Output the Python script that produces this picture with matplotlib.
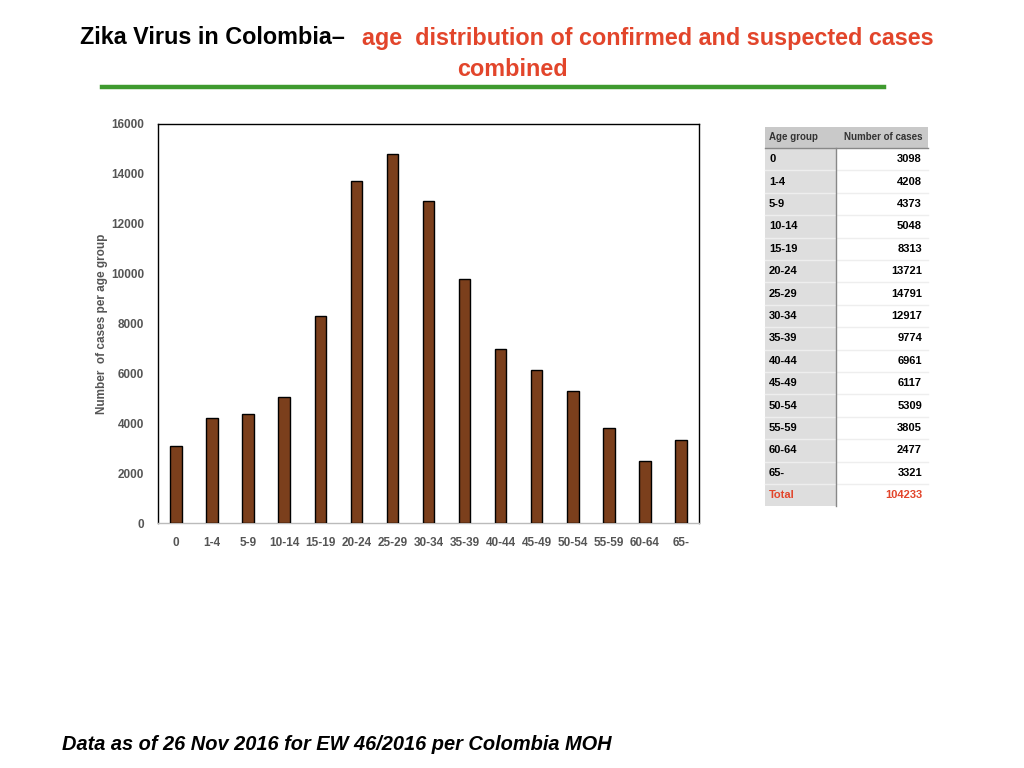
import matplotlib
matplotlib.use("Agg")
import matplotlib.pyplot as plt
from matplotlib.patches import Rectangle
from matplotlib.lines import Line2D

age_groups = ["0", "1-4", "5-9", "10-14", "15-19", "20-24", "25-29", "30-34",
              "35-39", "40-44", "45-49", "50-54", "55-59", "60-64", "65-"]
cases = [3098, 4208, 4373, 5048, 8313, 13721, 14791, 12917,
         9774, 6961, 6117, 5309, 3805, 2477, 3321]
total_cases = 104233
y_ticks = [0, 2000, 4000, 6000, 8000, 10000, 12000, 14000, 16000]

plt.rcParams['font.family'] = ['Liberation Sans', 'DejaVu Sans']

W, H = 1024, 768
fig = plt.figure(figsize=(W / 100, H / 100), dpi=100)

def fx(px):
    return px / W

def fy(py):
    return 1 - py / H

# Axes
ax = fig.add_axes([fx(158), fy(523), fx(699) - fx(158), fy(124) - fy(523)])
x = list(range(len(age_groups)))
ax.bar(x, cases, width=0.32, color="#7b3f1c", edgecolor="black", linewidth=1.0, zorder=3)
ax.set_xlim(-0.5, len(age_groups) - 0.5)
ax.set_ylim(0, 16000)
ax.set_yticks(y_ticks)
ax.set_yticklabels([str(v) for v in y_ticks], fontsize=8.5, fontweight="bold", color="#555555")
ax.set_xticks(x)
ax.set_xticklabels(age_groups, fontsize=8.5, fontweight="bold", color="#555555")
ax.tick_params(axis="both", length=0)
ax.tick_params(axis="y", pad=10)
ax.tick_params(axis="x", pad=10)
for s in ["top", "right", "left"]:
    ax.spines[s].set_color("black")
    ax.spines[s].set_linewidth(1.0)
ax.spines["bottom"].set_color("#bbbbbb")
ax.spines["bottom"].set_linewidth(1.0)
ax.set_ylabel("Number  of cases per age group", fontsize=8.5, fontweight="bold",
              color="#555555", labelpad=2)

# Title
fig.text(fx(80), fy(38), "Zika Virus in Colombia\u2013", fontsize=16.8, fontweight="bold",
         color="black", va="center", ha="left")
fig.text(fx(362), fy(38), "age  distribution of confirmed and suspected cases",
         fontsize=16.8, fontweight="bold", color="#e2452b", va="center", ha="left")
fig.text(fx(512), fy(70), "combined", fontsize=16.8, fontweight="bold", color="#e2452b",
         va="center", ha="center")
fig.add_artist(Line2D([fx(102), fx(884)], [fy(87), fy(87)], color="#3f9a2f", linewidth=3.2))

# Table
tx0, tx1, tx2 = 765, 836, 928
ty0 = 127
hdr_h = 21
row_h = 22.4
fig.add_artist(Rectangle((fx(tx0), fy(ty0 + hdr_h)), fx(tx2) - fx(tx0), fy(ty0) - fy(ty0 + hdr_h),
                         facecolor="#c9c9c9", edgecolor="none"))
fig.text(fx(769), fy(ty0 + hdr_h / 2), "Age group", fontsize=7, fontweight="bold",
         color="#333333", va="center", ha="left")
fig.text(fx(922), fy(ty0 + hdr_h / 2), "Number of cases", fontsize=7, fontweight="bold",
         color="#333333", va="center", ha="right")
labels = age_groups + ["Total"]
vals = [str(v) for v in cases] + [str(total_cases)]
n = len(labels)
body_top = ty0 + hdr_h
body_bot = body_top + n * row_h
fig.add_artist(Rectangle((fx(tx0), fy(body_bot)), fx(tx1) - fx(tx0), fy(body_top) - fy(body_bot),
                         facecolor="#dedede", edgecolor="none"))
for i, (lab, val) in enumerate(zip(labels, vals)):
    yc = body_top + (i + 0.5) * row_h
    col = "#e2452b" if lab == "Total" else "black"
    fig.text(fx(769), fy(yc), lab, fontsize=8, fontweight="bold", color=col, va="center", ha="left")
    fig.text(fx(922), fy(yc), val, fontsize=8, fontweight="bold", color=col, va="center", ha="right")
    if i < n - 1:
        yl = body_top + (i + 1) * row_h
        fig.add_artist(Line2D([fx(tx0), fx(tx2)], [fy(yl), fy(yl)], color="#eeeeee", linewidth=1.0))
fig.add_artist(Line2D([fx(tx0), fx(tx2)], [fy(body_top), fy(body_top)], color="#888888", linewidth=1.0))
fig.add_artist(Line2D([fx(tx1), fx(tx1)], [fy(body_top), fy(body_bot)], color="#888888", linewidth=1.0))

# Footer
fig.text(fx(62), fy(744), "Data as of 26 Nov 2016 for EW 46/2016 per Colombia MOH",
         fontsize=14.4, fontweight="bold", fontstyle="italic", color="black", va="center", ha="left")

fig.savefig("out.png", dpi=100)
